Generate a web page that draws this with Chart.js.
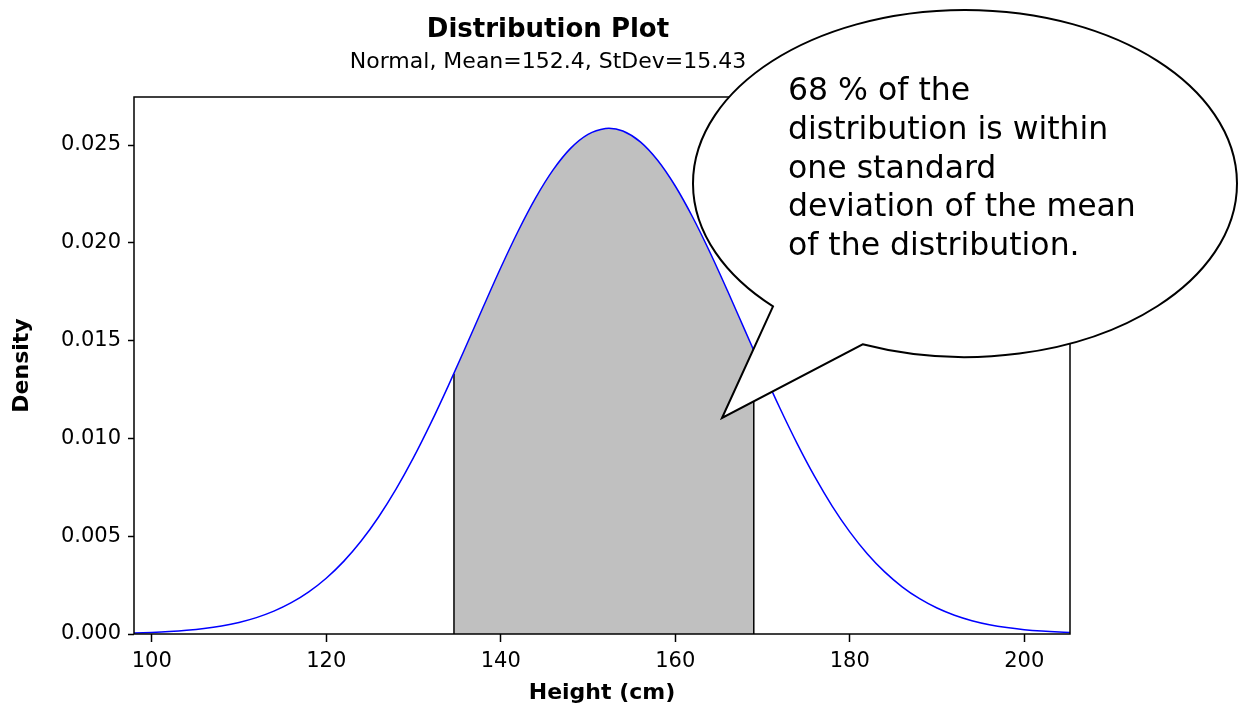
<!DOCTYPE html>
<html>
<head>
<meta charset="utf-8">
<script src="https://cdn.jsdelivr.net/npm/chart.js@4.4.1/dist/chart.umd.min.js"></script>
<style>
  body { margin: 0; background: #fff; }
  #wrap { width: 1243px; height: 708px; }
</style>
</head>
<body>
<div id="wrap"><canvas id="myChart" width="1243" height="708"></canvas></div>
<script>
// valores (densidad normal, media 152.4, sd 15.43)
const heights = [96, 98, 100, 102, 104, 106, 108, 110, 112, 114, 116, 118, 120, 122, 124, 126, 128, 130,
  132, 134, 136, 138, 140, 142, 144, 146, 148, 150, 152, 152.4, 154, 156, 158, 160, 162, 164, 166, 168, 170,
  172, 174, 176, 178, 180, 182, 184, 186, 188, 190, 192, 194, 196, 198, 200, 202, 204, 206];
const density = [0.0000325, 0.0000517, 0.0000810, 0.000125, 0.000189, 0.000281, 0.000412, 0.000593,
  0.000839, 0.001168, 0.001600, 0.002155, 0.002851, 0.003713, 0.004753, 0.005983, 0.007405, 0.009013,
  0.010790, 0.012700, 0.014697, 0.016728, 0.018722, 0.020602, 0.022295, 0.023725, 0.024827, 0.025545,
  0.025846, 0.025855, 0.025716, 0.025161, 0.024207, 0.022903, 0.021305, 0.019490, 0.017533, 0.015508, 0.013491,
  0.011539, 0.009706, 0.008028, 0.006528, 0.005223, 0.004106, 0.003175, 0.002414, 0.001805, 0.001328,
  0.000960, 0.000682, 0.000477, 0.000328, 0.000222, 0.000148, 0.0000965, 0.0000620];

// zona sombreada (una desviacion estandar)
const shadeFrom = 134.64;
const shadeTo = 169.0;
const shadeFromDensity = 0.013310;
const shadeToDensity = 0.014494;

const xTicks = [100, 120, 140, 160, 180, 200];
const yTicks = [0, 0.005, 0.010, 0.015, 0.020, 0.025];

const titulo = "Distribution Plot";
const subtitulo = "Normal, Mean=152.4, StDev=15.43";
const nota = ["68 % of the", "distribution is within", "one standard", "deviation of the mean", "of the distribution."];

// ---- armado de datos ----
const curva = heights.map((h, i) => ({ x: h, y: density[i] }));
const sombra = [{ x: shadeFrom, y: shadeFromDensity }];
heights.forEach((h, i) => {
  if (h > shadeFrom && h < shadeTo) sombra.push({ x: h, y: density[i] });
});
sombra.push({ x: shadeTo, y: shadeToDensity });
const bordeIzq = [{ x: shadeFrom, y: 0 }, { x: shadeFrom, y: shadeFromDensity }];
const bordeDer = [{ x: shadeTo, y: 0 }, { x: shadeTo, y: shadeToDensity }];

// marco, titulos y globo de texto
const extras = {
  id: "extras",
  afterDatasetsDraw(chart) {
    const ctx = chart.ctx;
    const a = chart.chartArea;
    ctx.save();
    ctx.strokeStyle = "#000";
    ctx.lineWidth = 1.5;
    ctx.strokeRect(a.left, a.top, a.right - a.left, a.bottom - a.top);

    ctx.fillStyle = "#000";
    ctx.textAlign = "center";
    ctx.textBaseline = "alphabetic";
    ctx.font = "bold 26px 'DejaVu Sans'";
    ctx.fillText(titulo, 548, 37);
    ctx.font = "22px 'DejaVu Sans'";
    ctx.fillText(subtitulo, 548, 68);

    // globo
    const cx = 965, cy = 183.5, rx = 272, ry = 173.5;
    const a1 = 134.9 * Math.PI / 180;
    const a2 = 112.1 * Math.PI / 180;
    ctx.beginPath();
    ctx.moveTo(722, 418);
    ctx.lineTo(cx + rx * Math.cos(a1), cy + ry * Math.sin(a1));
    ctx.ellipse(cx, cy, rx, ry, 0, a1, a2, false);
    ctx.lineTo(722, 418);
    ctx.closePath();
    ctx.fillStyle = "#fff";
    ctx.fill();
    ctx.lineWidth = 2;
    ctx.strokeStyle = "#000";
    ctx.stroke();

    ctx.fillStyle = "#000";
    ctx.textAlign = "left";
    ctx.font = "31.5px 'DejaVu Sans'";
    nota.forEach((t, i) => ctx.fillText(t, 788, 100 + i * 38.8));
    ctx.restore();
  }
};

const config = {
  type: "line",
  data: {
    datasets: [
      { data: curva, borderColor: "#0000ff", borderWidth: 1.5, pointRadius: 0, fill: false, cubicInterpolationMode: "monotone" },
      { data: bordeIzq, borderColor: "#000", borderWidth: 1.5, pointRadius: 0, fill: false },
      { data: bordeDer, borderColor: "#000", borderWidth: 1.5, pointRadius: 0, fill: false },
      { data: sombra, borderColor: "rgba(0,0,0,0)", borderWidth: 0, backgroundColor: "#c0c0c0", pointRadius: 0, fill: "origin", cubicInterpolationMode: "monotone" }
    ]
  },
  options: {
    responsive: false,
    animation: false,
    layout: { padding: { left: 0, top: 97, right: 173, bottom: 0 } },
    plugins: { legend: { display: false }, tooltip: { enabled: false }, title: { display: false } },
    scales: {
      x: {
        type: "linear",
        min: 97.97,
        max: 205.24,
        afterFit: (s) => { s.height = 74; },
        afterBuildTicks: (s) => { s.ticks = xTicks.map(v => ({ value: v })); },
        grid: { drawOnChartArea: false, color: "#000", tickLength: 8, tickWidth: 1.5 },
        border: { display: false },
        ticks: { color: "#000", font: { family: "DejaVu Sans", size: 21 }, padding: 7, maxRotation: 0 },
        title: { display: true, text: "Height (cm)", color: "#000", font: { family: "DejaVu Sans", size: 22, weight: "bold" }, padding: { top: 0, bottom: 2 } }
      },
      y: {
        min: 0,
        max: 0.027454,
        afterFit: (s) => { s.width = 134; },
        afterBuildTicks: (s) => { s.ticks = yTicks.map(v => ({ value: v })); },
        grid: { drawOnChartArea: false, color: "#000", tickLength: 6, tickWidth: 1.5 },
        border: { display: false },
        ticks: { color: "#000", font: { family: "DejaVu Sans", size: 21 }, padding: 7, callback: (v) => v.toFixed(3) },
        title: { display: true, text: "Density", color: "#000", font: { family: "DejaVu Sans", size: 22, weight: "bold" }, padding: { top: 9, bottom: 0 } }
      }
    }
  },
  plugins: [extras]
};

const myChart = new Chart(document.getElementById("myChart"), config);
</script>
</body>
</html>
